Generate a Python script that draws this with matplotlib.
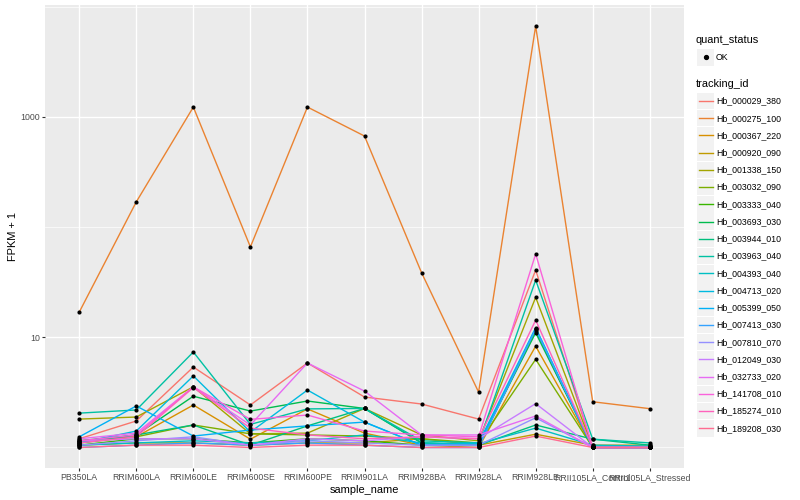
import numpy as np
import matplotlib
matplotlib.use("Agg")
import matplotlib.pyplot as plt
from matplotlib.lines import Line2D
from matplotlib.patches import Rectangle

plt.rcParams['font.family'] = ['Liberation Sans', 'DejaVu Sans']

samples = ["PB350LA", "RRIM600LA", "RRIM600LE", "RRIM600SE", "RRIM600PE",
           "RRIM901LA", "RRIM928BA", "RRIM928LA", "RRIM928LE",
           "RRII105LA_Control", "RRII105LA_Stressed"]

tracking_ids = ["Hb_000029_380", "Hb_000275_100", "Hb_000367_220", "Hb_000920_090",
                "Hb_001338_150", "Hb_003032_090", "Hb_003333_040", "Hb_003693_030",
                "Hb_003944_010", "Hb_003963_040", "Hb_004393_040", "Hb_004713_020",
                "Hb_005399_050", "Hb_007413_030", "Hb_007810_070", "Hb_012049_030",
                "Hb_032733_020", "Hb_141708_010", "Hb_185274_010", "Hb_189208_030"]

line_colors = ["#F8766D", "#EA8331", "#D89000", "#C09B00", "#A3A500", "#7CAE00",
               "#39B600", "#00BB4E", "#00BF7D", "#00C1A3", "#00BFC4", "#00BAE0",
               "#00B0F6", "#35A2FF", "#9590FF", "#C77CFF", "#E76BF3", "#FA62DB",
               "#FF62BC", "#FF6C91"]

# FPKM + 1 values per gene, one value per sample
hb_000029_380 = [1.20, 1.74, 5.37, 2.43, 5.84, 2.87, 2.48, 1.81, 40.7, 1.00, 1.00]
hb_000275_100 = [16.9, 169, 1225, 66, 1225, 669, 38.5, 3.18, 6650, 2.60, 2.25]
hb_000367_220 = [1.15, 1.25, 2.43, 1.19, 2.24, 1.35, 1.05, 1.00, 8.3, 1.00, 1.00]
hb_000920_090 = [1.05, 1.10, 1.10, 1.05, 1.10, 1.10, 1.20, 1.05, 1.32, 1.05, 1.05]
hb_001338_150 = [1.81, 1.89, 3.55, 1.33, 1.35, 2.26, 1.30, 1.15, 23.0, 1.00, 1.00]
hb_003032_090 = [1.10, 1.25, 1.60, 1.33, 1.30, 1.27, 1.20, 1.10, 6.3, 1.00, 1.00]
hb_003333_040 = [1.05, 1.20, 1.20, 1.10, 1.20, 1.15, 1.05, 1.05, 11.5, 1.00, 1.00]
hb_003693_030 = [1.15, 1.30, 2.92, 2.14, 2.64, 2.26, 1.10, 1.05, 11.0, 1.00, 1.00]
hb_003944_010 = [1.10, 1.30, 1.60, 1.05, 1.57, 2.26, 1.10, 1.05, 1.60, 1.19, 1.05]
hb_003963_040 = [2.05, 2.19, 7.35, 1.62, 2.24, 2.26, 1.15, 1.10, 33.0, 1.19, 1.10]
hb_004393_040 = [1.05, 1.10, 1.15, 1.10, 1.15, 1.30, 1.10, 1.08, 1.50, 1.05, 1.03]
hb_004713_020 = [1.10, 1.41, 4.46, 1.38, 3.32, 1.70, 1.05, 1.10, 12.2, 1.00, 1.00]
hb_005399_050 = [1.25, 2.38, 1.27, 1.44, 1.57, 1.70, 1.05, 1.05, 12.0, 1.00, 1.00]
hb_007413_030 = [1.00, 1.05, 1.10, 1.05, 1.10, 1.05, 1.00, 1.00, 11.8, 1.00, 1.00]
hb_007810_070 = [1.05, 1.15, 1.25, 1.05, 1.15, 1.10, 1.05, 1.05, 1.86, 1.00, 1.00]
hb_012049_030 = [1.15, 1.20, 1.20, 1.05, 1.20, 1.15, 1.25, 1.20, 2.50, 1.00, 1.00]
hb_032733_020 = [1.20, 1.35, 3.55, 1.60, 5.84, 3.25, 1.30, 1.30, 1.93, 1.00, 1.00]
hb_141708_010 = [1.15, 1.30, 3.55, 1.80, 1.97, 1.41, 1.30, 1.25, 57.0, 1.00, 1.00]
hb_185274_010 = [1.10, 1.25, 3.50, 1.50, 1.30, 1.20, 1.25, 1.20, 14.3, 1.00, 1.00]
hb_189208_030 = [1.00, 1.05, 1.05, 1.00, 1.05, 1.05, 1.00, 1.00, 1.27, 1.00, 1.00]

gene_values = [hb_000029_380, hb_000275_100, hb_000367_220, hb_000920_090,
               hb_001338_150, hb_003032_090, hb_003333_040, hb_003693_030,
               hb_003944_010, hb_003963_040, hb_004393_040, hb_004713_020,
               hb_005399_050, hb_007413_030, hb_007810_070, hb_012049_030,
               hb_032733_020, hb_141708_010, hb_185274_010, hb_189208_030]

W, H = 800, 500
fig = plt.figure(figsize=(8, 5), dpi=100)
ax = fig.add_axes([45 / W, 1 - 468 / H, (684 - 45) / W, (468 - 5) / H])
ax.set_facecolor("#EBEBEB")
for s in ax.spines.values():
    s.set_visible(False)

x = np.arange(len(samples))
for vals, col in zip(gene_values, line_colors):
    ax.plot(x, vals, color=col, lw=1.0, solid_capstyle='butt', zorder=2)
for vals in gene_values:
    ax.scatter(x, vals, s=9, color='black', zorder=3, linewidths=0)

ax.set_yscale('log')
ax.set_ylim(10 ** -0.186, 10 ** 4.014)
ax.set_xlim(-0.6, len(samples) - 1 + 0.6)
ax.set_yticks([10, 1000])
ax.set_yticklabels(["10", "1000"])
ax.set_yticks([1, 100, 10000], minor=True)
ax.set_xticks(x)
ax.set_xticklabels(samples)
ax.tick_params(axis='both', which='major', length=2.0, width=0.8, color='#333333',
               labelsize=6.3, labelcolor='#4D4D4D', pad=1.5)
ax.tick_params(axis='y', which='minor', length=0, labelleft=False)
ax.grid(True, which='major', color='white', lw=1.0)
ax.grid(True, which='minor', axis='y', color='white', lw=0.5)
ax.set_axisbelow(True)
ax.set_xlabel("sample_name", fontsize=7.9, labelpad=2)
ax.set_ylabel("FPKM + 1", fontsize=7.9, labelpad=1.5)


def fx(px):
    return px / W


def fy(py):
    return 1 - py / H


# legend: quant_status
fig.text(fx(696), fy(40), "quant_status", fontsize=7.9, va='center', ha='left')
fig.add_artist(Rectangle((fx(697), fy(65.5)), 17 / W, 16.5 / H, transform=fig.transFigure,
                         facecolor='#F2F2F2', edgecolor='none'))
fig.add_artist(Line2D([fx(705.5)], [fy(57)], marker='o', markersize=2.8, color='black',
                      linestyle='none', transform=fig.transFigure))
fig.text(fx(716), fy(57), "OK", fontsize=6.3, va='center', ha='left')

# legend: tracking_id
fig.text(fx(696), fy(84), "tracking_id", fontsize=7.9, va='center', ha='left')
for i, (name, col) in enumerate(zip(tracking_ids, line_colors)):
    cy = 101 + i * 17.23
    fig.add_artist(Rectangle((fx(697), fy(cy + 8.2)), 17 / W, 16.4 / H,
                             transform=fig.transFigure, facecolor='#F2F2F2', edgecolor='none'))
    fig.add_artist(Line2D([fx(698.5), fx(712.5)], [fy(cy), fy(cy)], color=col, lw=1.0,
                          transform=fig.transFigure))
    fig.text(fx(716), fy(cy), name, fontsize=6.3, va='center', ha='left')

fig.savefig("out.png", dpi=100, facecolor='white')
